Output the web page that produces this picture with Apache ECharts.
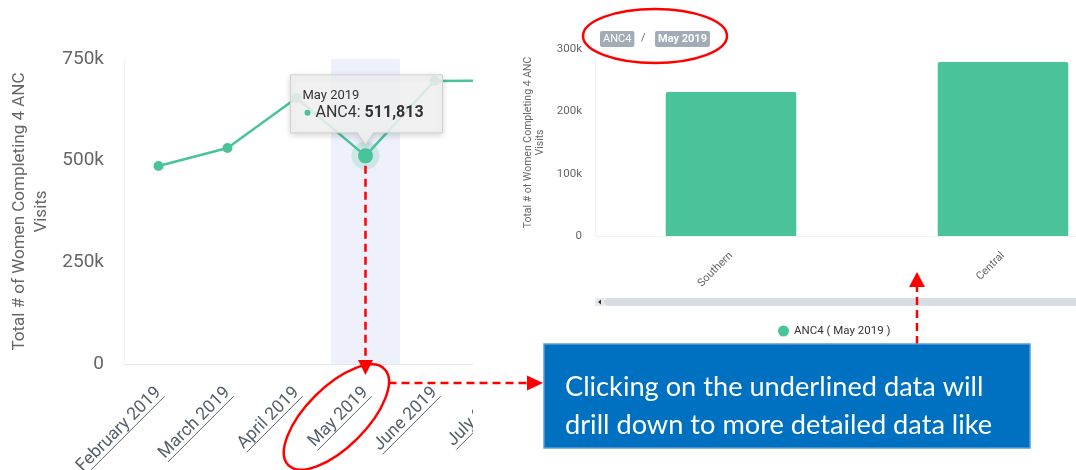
<!DOCTYPE html>
<html>
<head>
<meta charset="utf-8">
<title>ANC4 drill down</title>
<script src="https://cdn.jsdelivr.net/npm/echarts@6/dist/echarts.min.js"></script>
<style>
  html, body { margin: 0; padding: 0; background: #fff; }
  #main { width: 1076px; height: 470px; }
</style>
</head>
<body>
<div id="main"></div>
<script>
  // data
  var months = ["February 2019", "March 2019", "April 2019", "May 2019", "June 2019", "July 2019"];
  var anc4Monthly = [487000, 531000, 654000, 511813, 696000, 697000];
  var selectedMonth = "May 2019";
  var regions = ["Southern", "Central"];
  var anc4Regional = [231000, 279000];
  var drillSeriesName = "ANC4 ( May 2019 )";
  var yTitle = "Total # of Women Completing 4 ANC\nVisits";

  var GREEN = "#4ac39a";
  var RED = "#ff0000";
  var LABEL_FS = 17.5;
  var LABEL_MARGIN = 26;
  var LABEL_COLOR = "#56606b";

  var selIdx = months.indexOf(selectedMonth);

  function kFormat(v) {
    return v === 0 ? "0" : (v / 1000) + "k";
  }

  var chart = echarts.init(document.getElementById("main"));

  chart.setOption({
    animation: false,
    grid: [
      { left: 124, top: 59, width: 414, height: 305, outerBoundsMode: "none" },
      { left: 595, top: 49, width: 544, height: 187, outerBoundsMode: "none" }
    ],
    legend: {
      data: [drillSeriesName],
      left: 773, top: 320,
      icon: "circle", itemWidth: 11, itemHeight: 11,
      textStyle: { fontSize: 11.5, color: "#333", fontFamily: "Roboto" }
    },
    xAxis: [
      {
        type: "category", gridIndex: 0, data: months,
        axisTick: { show: false },
        axisLine: { lineStyle: { color: "#e3e8ee" } },
        axisLabel: { rotate: 45, interval: 0, margin: LABEL_MARGIN, fontSize: LABEL_FS, color: LABEL_COLOR, fontFamily: "Roboto" }
      },
      {
        type: "category", gridIndex: 1, data: regions,
        axisTick: { show: false },
        axisLine: { lineStyle: { color: "#eef0f3" } },
        axisLabel: { rotate: 45, interval: 0, margin: 18, fontSize: 11, color: "#666", fontFamily: "Roboto" }
      }
    ],
    yAxis: [
      {
        type: "value", gridIndex: 0, min: 0, max: 750000, interval: 250000,
        splitLine: { show: false },
        axisLine: { show: true, lineStyle: { color: "#f1f3f6" } },
        axisLabel: { formatter: kFormat, fontSize: 19, color: "#666", margin: 20, fontFamily: "Roboto" },
        name: yTitle, nameLocation: "middle", nameGap: 71,
        nameTextStyle: { fontSize: 17, color: "#666", lineHeight: 22, fontFamily: "Roboto" }
      },
      {
        type: "value", gridIndex: 1, min: 0, max: 300000, interval: 100000,
        splitLine: { show: false },
        axisLine: { show: true, lineStyle: { color: "#f1f3f6" } },
        axisLabel: { formatter: kFormat, fontSize: 11.5, color: "#666", margin: 13, fontFamily: "Roboto" },
        name: yTitle, nameLocation: "middle", nameGap: 44,
        nameTextStyle: { fontSize: 10.5, color: "#666", lineHeight: 12, fontFamily: "Roboto" }
      }
    ],
    series: [
      {
        // hover band behind the selected month
        type: "bar", name: "band", xAxisIndex: 0, yAxisIndex: 0, silent: true, z: 1,
        barWidth: "100%",
        data: months.map(function (m) { return m === selectedMonth ? 750000 : null; }),
        itemStyle: { color: "#eef1fc" }
      },
      {
        type: "scatter", name: "halo", xAxisIndex: 0, yAxisIndex: 0, silent: true, z: 2,
        symbolSize: 28,
        data: anc4Monthly.map(function (v, i) { return i === selIdx ? v : null; }),
        itemStyle: { color: "rgba(74,195,154,0.25)" }
      },
      {
        type: "line", name: "ANC4", xAxisIndex: 0, yAxisIndex: 0, z: 3,
        symbol: "circle", symbolSize: 10,
        data: anc4Monthly.map(function (v, i) { return i === selIdx ? { value: v, symbolSize: 15 } : v; }),
        lineStyle: { color: GREEN, width: 2.5 },
        itemStyle: { color: GREEN }
      },
      {
        type: "bar", name: drillSeriesName, xAxisIndex: 1, yAxisIndex: 1,
        barWidth: "48%",
        data: anc4Regional,
        itemStyle: { color: GREEN, borderRadius: [2, 2, 0, 0] }
      }
    ]
  });

  // ---- annotations placed from the chart's own scales ----
  var ctx = document.createElement("canvas").getContext("2d");
  function textWidth(str, font) {
    ctx.font = font;
    return ctx.measureText(str).width;
  }

  var axisY = chart.convertToPixel({ yAxisIndex: 0 }, 0);
  var pt = chart.convertToPixel({ seriesIndex: 2 }, [selIdx, anc4Monthly[selIdx]]);
  var px = pt[0], py = pt[1];
  var c45 = Math.SQRT1_2;
  var g = [];

  // underlines under the month labels
  months.forEach(function (m, i) {
    var ax = chart.convertToPixel({ xAxisIndex: 0 }, i);
    var ay = axisY + LABEL_MARGIN;
    var w = textWidth(m, LABEL_FS + "px Roboto");
    var off = LABEL_FS * 0.5;
    g.push({
      type: "line", z: 10, silent: true,
      shape: {
        x1: ax - w * c45 + off * c45, y1: ay + w * c45 + off * c45,
        x2: ax + off * c45, y2: ay + off * c45
      },
      style: { stroke: LABEL_COLOR, lineWidth: 1 }
    });
  });

  // white covers: the left chart is cut off on its right side
  g.push({ type: "rect", z: 50, silent: true, shape: { x: 473, y: 30, width: 50, height: 440 }, style: { fill: "#fff" } });
  g.push({ type: "rect", z: 50, silent: true, shape: { x: 473, y: 300, width: 90, height: 170 }, style: { fill: "#fff" } });

  // tooltip callout
  var tl = px - 75, tr = px + 77, tt = py - 81, tb = py - 23;
  g.push({
    type: "polygon", z: 60, silent: true,
    shape: { points: [[tl, tt], [tr, tt], [tr, tb], [px + 8, tb], [px, py - 11], [px - 8, tb], [tl, tb]] },
    style: {
      fill: "rgba(245,245,245,0.86)", stroke: "#d0d0d0", lineWidth: 1,
      shadowBlur: 6, shadowColor: "rgba(0,0,0,0.18)", shadowOffsetY: 2
    }
  });
  g.push({
    type: "text", z: 61, silent: true, x: px - 63, y: py - 60,
    style: { text: months[selIdx], font: "13px Roboto", fill: "#333", verticalAlign: "middle" }
  });
  g.push({ type: "circle", z: 61, silent: true, shape: { cx: px - 58, cy: py - 43, r: 3 }, style: { fill: GREEN } });
  g.push({
    type: "text", z: 61, silent: true, x: px - 50, y: py - 43,
    style: {
      text: "{n|ANC4: }{b|" + anc4Monthly[selIdx].toLocaleString("en-US") + "}",
      verticalAlign: "middle",
      rich: {
        n: { fontSize: 16, fontFamily: "Roboto", fill: "#333" },
        b: { fontSize: 16, fontFamily: "Roboto", fontWeight: "bold", fill: "#333" }
      }
    }
  });

  var dash = { stroke: RED, lineWidth: 2.5, lineDash: [8, 5] };

  // arrow from the point down to the month label
  g.push({ type: "line", z: 70, silent: true, shape: { x1: px, y1: py + 10, x2: px, y2: axisY - 4 }, style: dash });
  g.push({
    type: "polygon", z: 70, silent: true,
    shape: { points: [[px - 7.5, axisY - 4], [px + 7.5, axisY - 4], [px, axisY + 11]] },
    style: { fill: RED }
  });

  // ellipse round the selected month label
  var selW = textWidth(months[selIdx], LABEL_FS + "px Roboto");
  g.push({
    type: "ellipse", z: 70, silent: true,
    x: px - selW / 2 * c45 - 2, y: axisY + LABEL_MARGIN + selW / 2 * c45,
    rotation: Math.PI / 4,
    shape: { cx: 0, cy: 0, rx: 68, ry: 30 },
    style: { fill: "none", stroke: RED, lineWidth: 2.5 }
  });

  // callout box
  var bx = 544, by = 344, bw = 486, bh = 104;
  var hy = axisY + 19;
  g.push({ type: "line", z: 70, silent: true, shape: { x1: px + 23, y1: hy, x2: bx - 16, y2: hy }, style: dash });
  g.push({
    type: "polygon", z: 70, silent: true,
    shape: { points: [[bx - 17, hy - 7.5], [bx - 17, hy + 7.5], [bx - 1, hy]] },
    style: { fill: RED }
  });
  g.push({
    type: "rect", z: 80, silent: true,
    shape: { x: bx, y: by, width: bw, height: bh },
    style: { fill: "#0070c0", stroke: "#5b9bd5", lineWidth: 1.5 }
  });
  var line1 = "Clicking on the underlined data will";
  var line2 = "drill down to more detailed data like";
  var boxFs = Math.min(28, 418 / textWidth(line1, "1px Lato"));
  g.push({ type: "text", z: 81, silent: true, x: bx + 21, y: by + 43, style: { text: line1, font: boxFs.toFixed(1) + "px Lato", fill: "#fff", verticalAlign: "middle" } });
  g.push({ type: "text", z: 81, silent: true, x: bx + 21, y: by + 81, style: { text: line2, font: boxFs.toFixed(1) + "px Lato", fill: "#fff", verticalAlign: "middle" } });

  // arrow from the box up to the drill-down chart
  var ux = 917;
  g.push({ type: "line", z: 70, silent: true, shape: { x1: ux, y1: by, x2: ux, y2: 287 }, style: dash });
  g.push({
    type: "polygon", z: 70, silent: true,
    shape: { points: [[ux - 8, 287], [ux + 8, 287], [ux, 272]] },
    style: { fill: RED }
  });

  // breadcrumb of the drill-down chart
  g.push({
    type: "text", z: 20, silent: true, x: 600, y: 31,
    style: { text: "ANC4", font: "11px Roboto", fill: "#fff", backgroundColor: "#a3acb6", padding: [3, 3, 2, 3], borderRadius: 2 }
  });
  g.push({ type: "text", z: 20, silent: true, x: 641, y: 33, style: { text: "/", font: "11px Roboto", fill: "#666" } });
  g.push({
    type: "text", z: 20, silent: true, x: 655, y: 31,
    style: { text: selectedMonth, font: "bold 11px Roboto", fill: "#fff", backgroundColor: "#a3acb6", padding: [3, 3, 2, 3], borderRadius: 2 }
  });
  g.push({
    type: "ellipse", z: 70, silent: true,
    shape: { cx: 655, cy: 36, rx: 72, ry: 27 },
    style: { fill: "none", stroke: RED, lineWidth: 2.5 }
  });

  // scrollbar under the drill-down chart
  g.push({ type: "rect", z: 20, silent: true, shape: { x: 595, y: 298, width: 9, height: 8 }, style: { fill: "#e6e9ee" } });
  g.push({ type: "polygon", z: 21, silent: true, shape: { points: [[601, 299.5], [601, 304.5], [598, 302]] }, style: { fill: "#333" } });
  g.push({ type: "rect", z: 20, silent: true, shape: { x: 604, y: 298, width: 480, height: 8, r: 4 }, style: { fill: "#d8dde4" } });

  chart.setOption({ graphic: g });
</script>
</body>
</html>
